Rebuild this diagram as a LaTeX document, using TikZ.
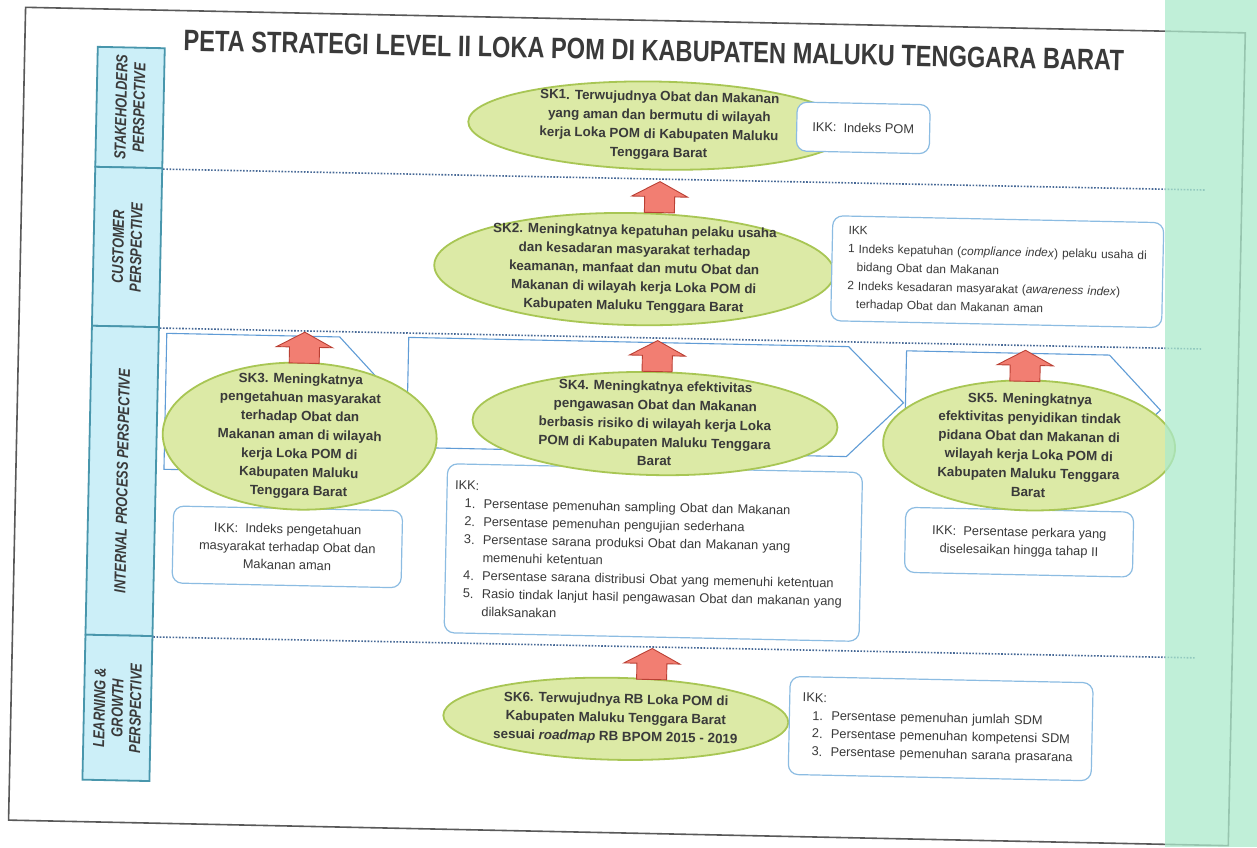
\documentclass[tikz,border=0pt]{standalone}
\usepackage{fontspec}
\setmainfont{Liberation Sans}
\newfontfamily\narrowsans[FakeStretch=0.8]{Liberation Sans}
\usetikzlibrary{shapes.geometric}

\definecolor{ellfill}{RGB}{220,234,166}
\definecolor{elldraw}{RGB}{168,198,84}
\definecolor{arrfill}{RGB}{242,126,114}
\definecolor{arrdraw}{RGB}{186,64,52}
\definecolor{perspfill}{RGB}{204,239,248}
\definecolor{perspdraw}{RGB}{72,150,172}
\definecolor{ikkdraw}{RGB}{140,188,226}
\definecolor{chevdraw}{RGB}{96,156,214}
\definecolor{dotcol}{RGB}{70,104,150}
\definecolor{txtcol}{RGB}{58,58,58}
\definecolor{scanband}{RGB}{172,234,204}

% block arrow, tip at #1
\newcommand{\skarrow}[1]{\draw[arr_style] (#1) -- ++(28,15) -- ++(-13,0) -- ++(0,16) -- ++(-30,0) -- ++(0,-16) -- ++(-13,0) -- cycle;}
\newcommand{\ikknum}[1]{\hspace*{10pt}\makebox[19pt][l]{#1.}}
\newcommand{\ikkcont}{\hspace*{29pt}}

\begin{document}
\begin{tikzpicture}[x=1pt, y=-1pt,
  ell_style/.style={ellipse, draw=elldraw, fill=ellfill, line width=1.8pt, inner sep=0pt},
  ell_text/.style={align=center, text=txtcol, font=\fontsize{13.4}{18.7}\selectfont\bfseries},
  ikk_style/.style={draw=ikkdraw, fill=white, rounded corners=10pt, line width=1.2pt, inner sep=0pt, text=txtcol, font=\fontsize{12.8}{18}\selectfont},
  persp_style/.style={draw=perspdraw, fill=perspfill, line width=1.8pt, inner sep=0pt, rotate=90, align=center, text=txtcol, font=\narrowsans\fontsize{16}{18}\selectfont\bfseries\itshape},
  chev_style/.style={draw=chevdraw, line width=1.1pt},
  arr_style/.style={draw=arrdraw, fill=arrfill, line width=0.9pt},
  dot_style/.style={draw=dotcol, line width=1.6pt, dash pattern=on 1.6pt off 1.6pt}]

  \fill[white] (0,0) rectangle (1257,847);
  \useasboundingbox (0,0) rectangle (1257,847);

  \begin{scope}[rotate around={-1.2:(628,423)}, transform shape]
    % frame and title
    \draw[black!65, line width=1.6pt] (17,20) rectangle (1237,833);
    \node[text=txtcol, font=\narrowsans\fontsize{29.5}{32}\selectfont\bfseries] (title) at (646,50)
      {PETA STRATEGI LEVEL II LOKA POM DI KABUPATEN MALUKU TENGGARA BARAT};

    % perspectives
    \draw
      (123.5,118) node[persp_style, minimum width=120pt, minimum height=67pt] (stake){STAKEHOLDERS\\PERSPECTIVE}
      (123.5,257.5) node[persp_style, minimum width=159pt, minimum height=67pt] (cust){CUSTOMER\\PERSPECTIVE}
      (123.5,491.5) node[persp_style, minimum width=309pt, minimum height=67pt] (intern){INTERNAL PROCESS PERSPECTIVE}
      (123.5,718.5) node[persp_style, minimum width=145pt, minimum height=67pt] (learn){LEARNING \&\\GROWTH\\PERSPECTIVE};

    \coordinate (d1) at (1200,178);
    \coordinate (d2) at (1200,337);
    \coordinate (d3) at (1200,646);
    \draw[dot_style] (stake.south west) -- (d1);
    \draw[dot_style] (cust.south west) -- (d2);
    \draw[dot_style] (intern.south west) -- (d3);

    % internal process chevrons
    \draw[chev_style] (165,343) -- (338,343) -- (403,411) -- (338,479) -- (165,479) -- cycle;
    \draw[chev_style] (407,342) -- (847,342) -- (903,397) -- (847,452) -- (407,452) -- cycle;
    \draw[chev_style] (905,345) -- (1108,345) -- (1160,399) -- (1108,453) -- (905,453) -- cycle;

    % IKK boxes behind the objectives
    \draw
      (290,554) node[ikk_style, minimum width=229pt, minimum height=77pt, align=center] (ikk3){IKK:~~Indeks pengetahuan\\masyarakat terhadap Obat dan\\Makanan aman}
      (656,552) node[ikk_style, minimum width=415pt, minimum height=169pt, text width=399pt, align=left] (ikk4){IKK:\\
        \ikknum{1}Persentase pemenuhan sampling Obat dan Makanan\\
        \ikknum{2}Persentase pemenuhan pengujian sederhana\\
        \ikknum{3}Persentase sarana produksi Obat dan Makanan yang\\
        \ikkcont memenuhi ketentuan\\
        \ikknum{4}Persentase sarana distribusi Obat yang memenuhi ketentuan\\
        \ikknum{5}Rasio tindak lanjut hasil pengawasan Obat dan makanan yang\\
        \ikkcont dilaksanakan}
      (1021.5,534) node[ikk_style, minimum width=228pt, minimum height=65pt, align=center] (ikk5){IKK:~~Persentase perkara yang\\diselesaikan hingga tahap II};

    % strategic objectives
    \draw
      (653,125) node[ell_style, minimum width=382pt, minimum height=88pt] (sk1){}
      (631,269) node[ell_style, minimum width=400pt, minimum height=112pt] (sk2){}
      (300,443) node[ell_style, minimum width=274pt, minimum height=147pt] (sk3){}
      (655,423) node[ell_style, minimum width=365pt, minimum height=103pt] (sk4){}
      (1029.5,437) node[ell_style, minimum width=292pt, minimum height=130pt] (sk5){}
      (622,719) node[ell_style, minimum width=345pt, minimum height=82pt] (sk6){};
    \node[ell_text] (sk1t) at (sk1) {SK1. Terwujudnya Obat dan Makanan\\yang aman dan bermutu di wilayah\\kerja Loka POM di Kabupaten Maluku\\Tenggara Barat};
    \node[ell_text] (sk2t) at (sk2) {SK2. Meningkatnya kepatuhan pelaku usaha\\dan kesadaran masyarakat terhadap\\keamanan, manfaat dan mutu Obat dan\\Makanan di wilayah kerja Loka POM di\\Kabupaten Maluku Tenggara Barat};
    \node[ell_text] (sk3t) at (sk3) {SK3. Meningkatnya\\pengetahuan masyarakat\\terhadap Obat dan\\Makanan aman di wilayah\\kerja Loka POM di\\Kabupaten Maluku\\Tenggara Barat};
    \node[ell_text] (sk4t) at (sk4) {SK4. Meningkatnya efektivitas\\pengawasan Obat dan Makanan\\berbasis risiko di wilayah kerja Loka\\POM di Kabupaten Maluku Tenggara\\Barat};
    \node[ell_text] (sk5t) at (sk5) {SK5. Meningkatnya\\efektivitas penyidikan tindak\\pidana Obat dan Makanan di\\wilayah kerja Loka POM di\\Kabupaten Maluku Tenggara\\Barat};
    \node[ell_text] (sk6t) at (sk6) {SK6. Terwujudnya RB Loka POM di\\Kabupaten Maluku Tenggara Barat\\sesuai \textit{roadmap} RB BPOM 2015 - 2019};

    % IKK boxes in front of the objectives
    \draw
      (857,123) node[ikk_style, minimum width=133pt, minimum height=49pt] (ikk1){IKK:~~Indeks POM}
      (994,264) node[ikk_style, minimum width=331pt, minimum height=105pt, text width=299pt, align=left,
        font=\fontsize{11.9}{18.5}\selectfont] (ikk2){IKK\\
        1 Indeks kepatuhan (\textit{compliance index}) pelaku usaha di\\
        \hspace*{9pt}bidang Obat dan Makanan\\
        2 Indeks kesadaran masyarakat (\textit{awareness index})\\
        \hspace*{9pt}terhadap Obat dan Makanan aman}
      (947,722) node[ikk_style, minimum width=303pt, minimum height=98pt, text width=277pt, align=left] (ikk6){IKK:\\
        \ikknum{1}Persentase pemenuhan jumlah SDM\\
        \ikknum{2}Persentase pemenuhan kompetensi SDM\\
        \ikknum{3}Persentase pemenuhan sarana prasarana};

    % arrows up to the lane above
    \coordinate (a1) at (655,181);
    \coordinate (a2) at (303,339);
    \coordinate (a3) at (656,340);
    \coordinate (a4) at (1024,342);
    \coordinate (a5) at (657,648);
    \skarrow{a1}
    \skarrow{a2}
    \skarrow{a3}
    \skarrow{a4}
    \skarrow{a5}
  \end{scope}

  % green strip of the scan
  \fill[scanband, fill opacity=0.75] (1165,0) rectangle (1257,847);
\end{tikzpicture}
\end{document}
